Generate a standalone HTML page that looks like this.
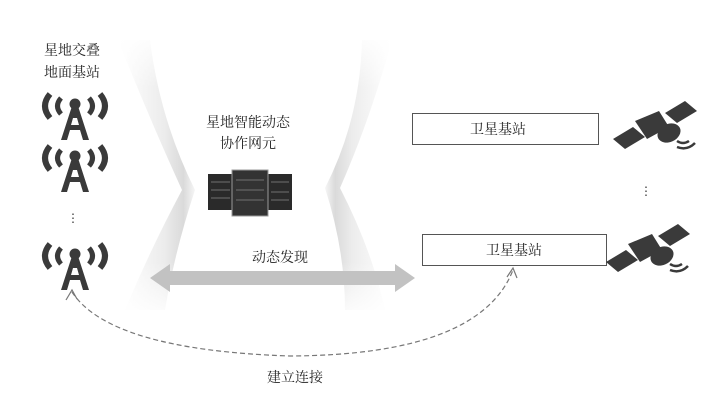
<!DOCTYPE html>
<html><head><meta charset="utf-8"><style>
body{margin:0;width:706px;height:406px;background:#fff;overflow:hidden;font-family:"Liberation Serif","Noto Serif CJK SC",serif;}
</style></head><body>
<svg width="706" height="406" viewBox="0 0 706 406" xmlns="http://www.w3.org/2000/svg">
<defs>
<linearGradient id="gl" x1="0" x2="1" y1="0" y2="0">
<stop offset="0" stop-color="#fff"/><stop offset="0.6" stop-color="#ececec"/><stop offset="0.85" stop-color="#dadada"/><stop offset="1" stop-color="#f6f6f6"/></linearGradient>
<linearGradient id="gr" x1="1" x2="0" y1="0" y2="0">
<stop offset="0" stop-color="#fff"/><stop offset="0.6" stop-color="#ececec"/><stop offset="0.85" stop-color="#dadada"/><stop offset="1" stop-color="#f6f6f6"/></linearGradient>
<linearGradient id="fv" x1="0" x2="0" y1="0" y2="1">
<stop offset="0" stop-color="#fff" stop-opacity="1"/><stop offset="0.2" stop-color="#fff" stop-opacity="0"/><stop offset="0.8" stop-color="#fff" stop-opacity="0"/><stop offset="1" stop-color="#fff" stop-opacity="1"/></linearGradient>
<g id="tower" fill="#3a3a3a" stroke="none">
<circle cx="0" cy="-14" r="5.5"/>
<path d="M-3,-12 L3,-12 L14,22 L8,22 L5,12 L-5,12 L-8,22 L-14,22 Z M-4,7 L4,7 L2,0 L-2,0 Z" fill-rule="evenodd"/>
<path d="M-14,-20 Q-21,-12 -14,-4" stroke="#3a3a3a" stroke-width="5" fill="none"/>
<path d="M-25,-24 Q-35,-12 -25,0" stroke="#3a3a3a" stroke-width="6" fill="none"/>
<path d="M14,-20 Q21,-12 14,-4" stroke="#3a3a3a" stroke-width="5" fill="none"/>
<path d="M25,-24 Q35,-12 25,0" stroke="#3a3a3a" stroke-width="6" fill="none"/>
</g>
<g id="sat" fill="#3a3a3a">
<path d="M-42,14 L-22,2 L-10,12 L-30,24 Z"/>
<path d="M10,-12 L30,-24 L42,-14 L22,-2 Z"/>
<path d="M-20,-4 L4,-14 L14,2 L-8,14 Z"/>
<ellipse cx="14" cy="8" rx="12" ry="9" transform="rotate(-25 14 8)"/>
<path d="M22,16 q6,4 12,0" stroke="#3a3a3a" stroke-width="2.5" fill="none"/>
<path d="M22,22 q10,4 18,-4" stroke="#3a3a3a" stroke-width="2.5" fill="none"/>
</g>
</defs>
<path d="M118,40 Q150,120 182,190 Q150,250 125,310 L165,310 Q175,250 195,190 Q160,120 150,40 Z" fill="url(#gl)"/>
<path d="M392,40 Q370,120 340,188 Q372,250 385,310 L345,310 Q345,250 325,188 Q360,120 362,40 Z" fill="url(#gr)"/>
<rect x="110" y="30" width="300" height="290" fill="url(#fv)"/>
<text x="72" y="55" font-size="14" text-anchor="middle" fill="#222">星地交叠</text>
<text x="72" y="77" font-size="14" text-anchor="middle" fill="#222">地面基站</text>
<use href="#tower" x="75" y="118"/>
<use href="#tower" x="75" y="170"/>
<text x="73" y="222" font-size="12" text-anchor="middle" fill="#333">⋮</text>
<use href="#tower" x="75" y="268"/>
<text x="248" y="127" font-size="14" text-anchor="middle" fill="#222">星地智能动态</text>
<text x="248" y="148" font-size="14" text-anchor="middle" fill="#222">协作网元</text>
<rect x="208" y="174" width="26" height="36" fill="#2a2a2a"/>
<rect x="268" y="174" width="24" height="36" fill="#2a2a2a"/>
<rect x="232" y="170" width="36" height="46" fill="#333" stroke="#999" stroke-width="1"/>
<g stroke="#888" stroke-width="0.8">
<line x1="211" y1="182" x2="230" y2="182"/><line x1="211" y1="190" x2="230" y2="190"/><line x1="211" y1="198" x2="230" y2="198"/>
<line x1="236" y1="180" x2="264" y2="180"/><line x1="236" y1="190" x2="264" y2="190"/><line x1="236" y1="200" x2="264" y2="200"/>
<line x1="271" y1="182" x2="289" y2="182"/><line x1="271" y1="192" x2="289" y2="192"/><line x1="271" y1="200" x2="289" y2="200"/>
</g>
<text x="280" y="262" font-size="14" text-anchor="middle" fill="#222">动态发现</text>
<path d="M150,278 L170,264 L170,271 L395,271 L395,264 L415,278 L395,292 L395,285 L170,285 L170,292 Z" fill="#c2c2c2"/>
<rect x="412.5" y="113.5" width="186" height="31" fill="#fff" stroke="#555" stroke-width="1"/>
<text x="498" y="134" font-size="14" text-anchor="middle" fill="#222">卫星基站</text>
<rect x="422.5" y="234.5" width="184" height="31" fill="#fff" stroke="#555" stroke-width="1"/>
<text x="514" y="255" font-size="14" text-anchor="middle" fill="#222">卫星基站</text>
<use href="#sat" x="655" y="125"/>
<use href="#sat" x="648" y="248"/>
<text x="646" y="195" font-size="12" text-anchor="middle" fill="#333">⋮</text>
<path d="M72,292 Q110,350 290,356 Q480,355 513,270" fill="none" stroke="#777" stroke-width="1.2" stroke-dasharray="5,3"/>
<path d="M66,300 L72,290 L77,299" fill="none" stroke="#777" stroke-width="1.2"/>
<path d="M507,277 L513,268 L517,278" fill="none" stroke="#777" stroke-width="1.2"/>
<text x="295" y="382" font-size="14" text-anchor="middle" fill="#222">建立连接</text>
</svg>
</body></html>
